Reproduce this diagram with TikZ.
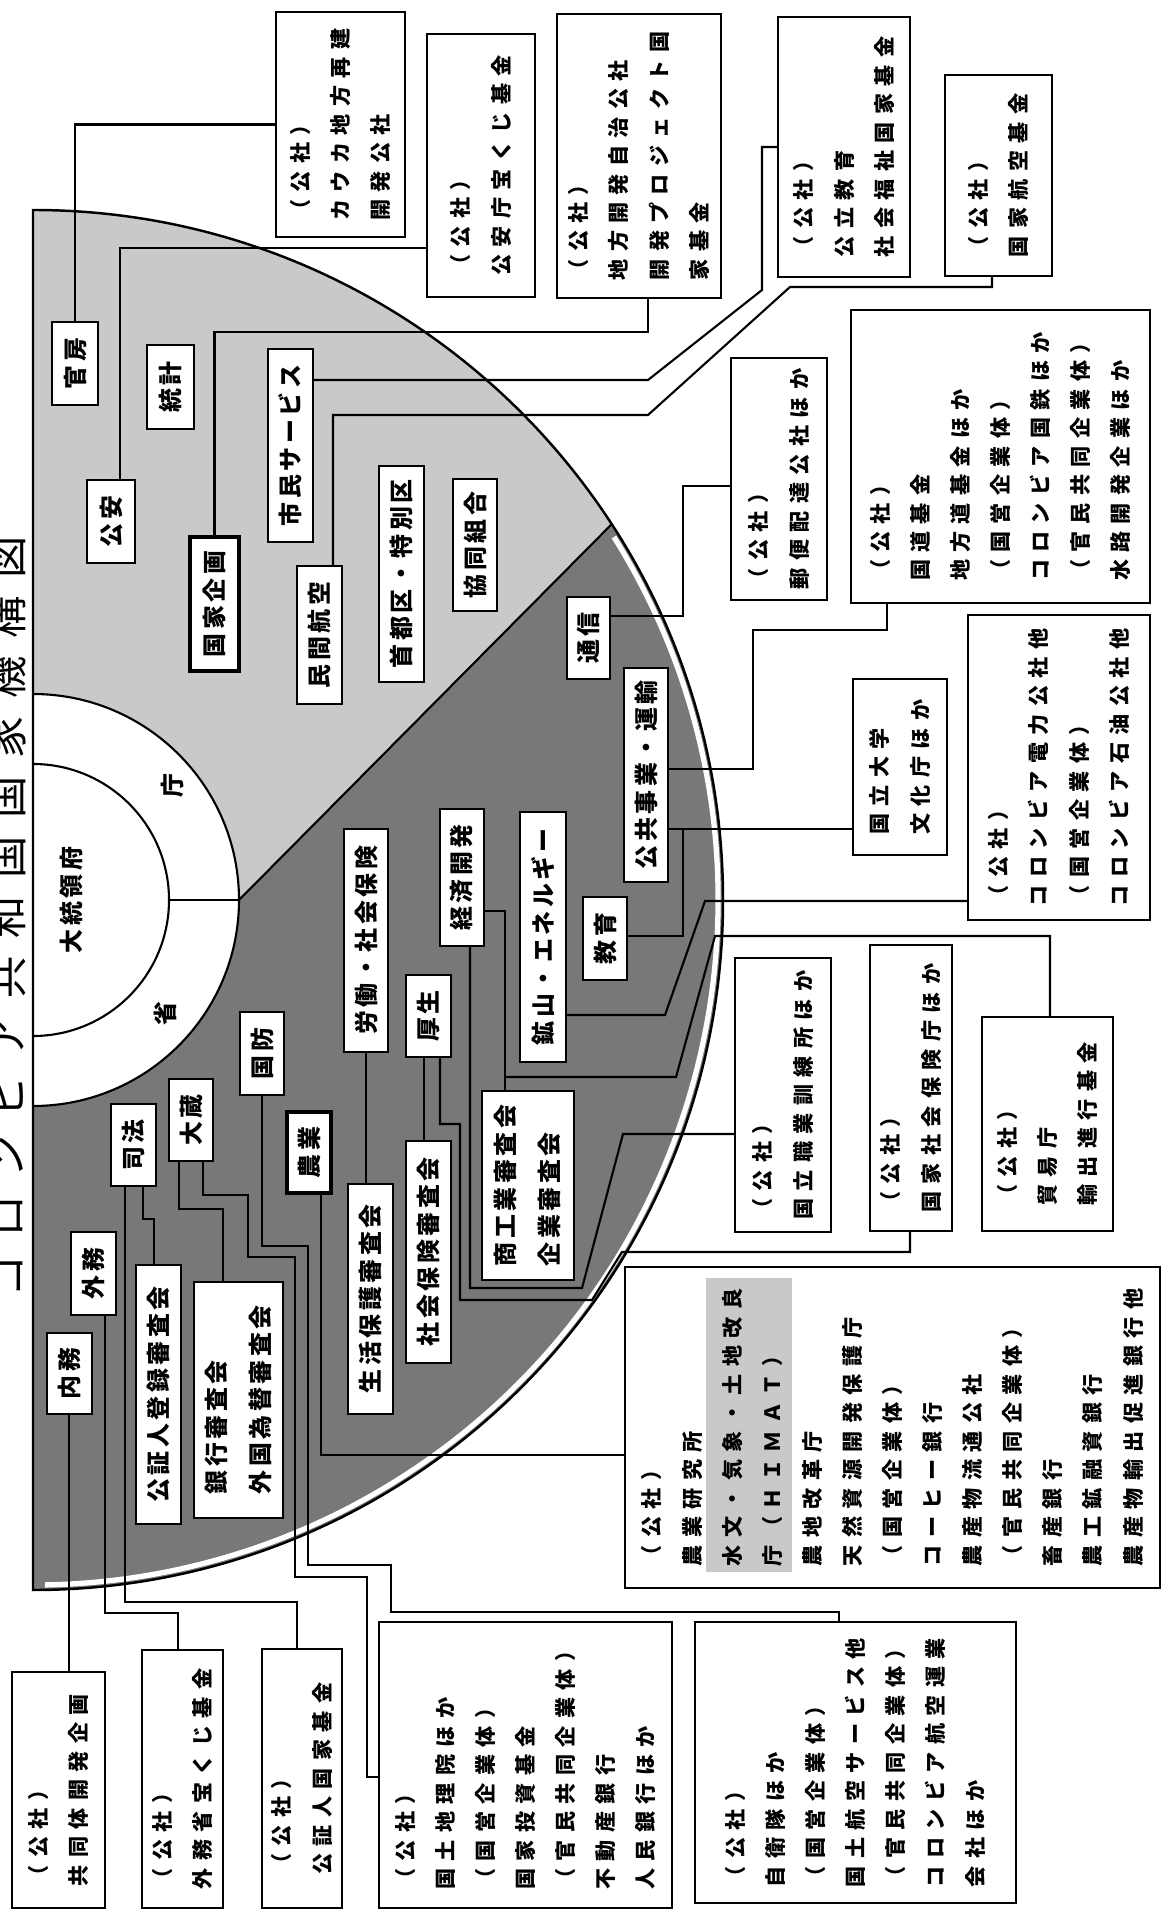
\documentclass[tikz,border=0pt]{standalone}
\usepackage{fontspec}
\usepackage{graphicx}
\usetikzlibrary{fit}
\newfontfamily\jpo{Noto Sans CJK JP}[LetterSpace=35]
\newfontfamily\jpi{Noto Sans CJK JP}[LetterSpace=15]
\newfontfamily\jpt{Noto Sans CJK JP}[LetterSpace=42]
\newcommand\vt[1]{\rotatebox{90}{\begin{tabular}{@{}l@{}}#1\end{tabular}}}
\newcommand\vs[1]{\rotatebox{90}{#1}}
\definecolor{lightg}{gray}{0.79}
\definecolor{darkg}{gray}{0.47}
\begin{document}
\begin{tikzpicture}[x=0.01cm, y=-0.01cm, line width=0.6pt,
  ob/.style={draw, fill=white, line width=0.7pt, inner sep=0pt},
  ib/.style={draw, fill=white, line width=0.6pt, inner sep=0pt},
  ot/.style={inner sep=0pt, font=\jpo\bfseries\fontsize{6pt}{11.4pt}\selectfont},
  it/.style={inner sep=0pt, font=\jpi\bfseries\fontsize{6.8pt}{12.5pt}\selectfont}]
\useasboundingbox (0,0) rectangle (1165,1913);
\clip (0,0) rectangle (1165,1913);
% ---- semicircle ----
\fill[darkg] (33,210) arc[start angle=-90,end angle=90,radius=690] -- cycle;
\begin{scope}
  \clip (33,210) arc[start angle=-90,end angle=90,radius=690] -- cycle;
  \fill[lightg] (33,0) -- (33,900) -- (239,900) -- (611.7,524.2) -- (1100,31.9) -- (1100,0) -- cycle;
\end{scope}
\draw[white, line width=1.5pt] (33,900) ++(-32:685) arc[start angle=-32,end angle=89,radius=685];
\fill[white] (33,694) arc[start angle=-90,end angle=90,radius=206] -- cycle;
\draw (33,694) arc[start angle=-90,end angle=90,radius=206];
\draw (33,764) arc[start angle=-90,end angle=90,radius=136];
\draw (169,900) -- (239,900);
\draw (239,900) -- (611.7,524.2);
\draw[line width=0.7pt] (33,210) arc[start angle=-90,end angle=90,radius=690] -- cycle;
% ---- title and centre ----
\node[inner sep=0pt, font=\jpt\fontsize{12pt}{14pt}\selectfont] (title) at (7,917) {\vs{コロンビア共和国国家機構図}};
\node[it] (pres) at (71,900) {\vs{大統領府}};
\node[it] (chou) at (172,786) {\vs{庁}};
\node[it] (shou) at (165,1014) {\vs{省}};
% ---- outer boxes ----
\node[ob, fit={(276,12)(405,237)}] (A) {};
\node[ot] (At) at (A.center) {\vt{（公社）\\カウカ地方再建\\開発公社}};
\node[ob, fit={(427,34)(535,297)}] (B) {};
\node[ot] (Bt) at (B.center) {\vt{（公社）\\公安庁宝くじ基金}};
\node[ob, fit={(557,14)(721,298)}] (C) {};
\node[ot] (Ct) at (C.center) {\vt{（公社）\\地方開発自治公社\\開発プロジェクト国\\家基金}};
\node[ob, fit={(778,17)(910,277)}] (D) {};
\node[ot] (Dt) at (D.center) {\vt{（公社）\\公立教育\\社会福祉国家基金}};
\node[ob, fit={(945,75)(1052,276)}] (E) {};
\node[ot] (Et) at (E.center) {\vt{（公社）\\国家航空基金}};
\node[ob, fit={(731,358)(827,600)}] (F) {};
\node[ot] (Ft) at (F.center) {\vt{（公社）\\郵便配達公社ほか}};
\node[ob, fit={(851,310)(1150,603)}] (G) {};
\node[ot] (Gt) at (G.center) {\vt{（公社）\\国道基金\\地方道基金ほか\\（国営企業体）\\コロンビア国鉄ほか\\（官民共同企業体）\\水路開発企業ほか}};
\node[ob, fit={(853,679)(947,855)}] (H) {};
\node[ot] (Ht) at (H.center) {\vt{国立大学\\文化庁ほか}};
\node[ob, fit={(968,615)(1150,920)}] (I) {};
\node[ot] (It) at (I.center) {\vt{（公社）\\コロンビア電力公社他\\（国営企業体）\\コロンビア石油公社他}};
\node[ob, fit={(735,958)(831,1232)}] (J) {};
\node[ot] (Jt) at (J.center) {\vt{（公社）\\国立職業訓練所ほか}};
\node[ob, fit={(870,945)(952,1231)}] (K) {};
\node[ot] (Kt) at (K.center) {\vt{（公社）\\国家社会保険庁ほか}};
\node[ob, fit={(982,1017)(1113,1231)}] (L) {};
\node[ot] (Lt) at (L.center) {\vt{（公社）\\貿易庁\\輸出進行基金}};
\node[ob, fit={(625,1267)(1160,1588)}] (M) {};
\fill[lightg] (706,1278) rectangle (792,1572);
\node[ot] (Mt) at (M.center) {\vt{（公社）\\農業研究所\\水文・気象・土地改良\\庁（ＨＩＭＡＴ）\\農地改革庁\\天然資源開発保護庁\\（国営企業体）\\コーヒー銀行\\農産物流通公社\\（官民共同企業体）\\畜産銀行\\農工鉱融資銀行\\農産物輸出促進銀行他}};
\node[ob, fit={(695,1622)(1016,1903)}] (N) {};
\node[ot] (Nt) at (N.center) {\vt{（公社）\\自衛隊ほか\\（国営企業体）\\国土航空サービス他\\（官民共同企業体）\\コロンビア航空運業\\会社ほか}};
\node[ob, fit={(379,1622)(672,1908)}] (O) {};
\node[ot] (Ot) at (O.center) {\vt{（公社）\\国土地理院ほか\\（国営企業体）\\国家投資基金\\（官民共同企業体）\\不動産銀行\\人民銀行ほか}};
\node[ob, fit={(262,1649)(342,1908)}] (P) {};
\node[ot] (Pt) at (P.center) {\vt{（公社）\\公証人国家基金}};
\node[ob, fit={(142,1650)(223,1908)}] (Q) {};
\node[ot] (Qt) at (Q.center) {\vt{（公社）\\外務省宝くじ基金}};
\node[ob, fit={(12,1672)(105,1908)}] (R) {};
\node[ot] (Rt) at (R.center) {\vt{（公社）\\共同体開発企画}};
% ---- inner boxes ----
\node[ib, fit={(52,322)(98,405)}] (kanbou) {};
\node[it] (kanbout) at (kanbou.center) {\vs{官房}};
\node[ib, fit={(87,480)(135,563)}] (kouan) {};
\node[it] (kouant) at (kouan.center) {\vs{公安}};
\node[ib, fit={(147,345)(194,429)}] (toukei) {};
\node[it] (toukeit) at (toukei.center) {\vs{統計}};
\node[ib, line width=1.3pt, fit={(190,537)(239,671)}] (kikaku) {};
\node[it] (kikakut) at (kikaku.center) {\vs{国家企画}};
\node[ib, fit={(268,349)(313,542)}] (shimin) {};
\node[it] (shimint) at (shimin.center) {\vs{市民サービス}};
\node[ib, fit={(297,566)(342,704)}] (minkan) {};
\node[it] (minkant) at (minkan.center) {\vs{民間航空}};
\node[ib, fit={(379,466)(424,682)}] (shuto) {};
\node[it] (shutot) at (shuto.center) {\vs{首都区・特別区}};
\node[ib, fit={(453,479)(497,611)}] (kyoudou) {};
\node[it] (kyoudout) at (kyoudou.center) {\vs{協同組合}};
\node[ib, fit={(567,597)(610,679)}] (tsushin) {};
\node[it] (tsushint) at (tsushin.center) {\vs{通信}};
\node[ib, fit={(624,668)(668,882)}] (koukyou) {};
\node[it] (koukyout) at (koukyou.center) {\vs{公共事業・運輸}};
\node[ib, fit={(440,809)(484,946)}] (keizai) {};
\node[it] (keizait) at (keizai.center) {\vs{経済開発}};
\node[ib, fit={(520,812)(566,1062)}] (kouzan) {};
\node[it] (kouzant) at (kouzan.center) {\vs{鉱山・エネルギー}};
\node[ib, fit={(583,897)(627,980)}] (kyouiku) {};
\node[it] (kyouikut) at (kyouiku.center) {\vs{教育}};
\node[ib, fit={(344,829)(388,1052)}] (roudou) {};
\node[it] (roudout) at (roudou.center) {\vs{労働・社会保険}};
\node[ib, fit={(406,975)(451,1057)}] (kousei) {};
\node[it] (kouseit) at (kousei.center) {\vs{厚生}};
\node[ib, fit={(240,1012)(284,1095)}] (kokubou) {};
\node[it] (kokuboutt) at (kokubou.center) {\vs{国防}};
\node[ib, line width=1.3pt, fit={(287,1112)(331,1193)}] (nougyou) {};
\node[it] (nougyout) at (nougyou.center) {\vs{農業}};
\node[ib, fit={(169,1079)(213,1161)}] (ookura) {};
\node[it] (ookurat) at (ookura.center) {\vs{大蔵}};
\node[ib, fit={(111,1104)(156,1186)}] (shihou) {};
\node[it] (shihout) at (shihou.center) {\vs{司法}};
\node[ib, fit={(71,1232)(116,1315)}] (gaimu) {};
\node[it] (gaimut) at (gaimu.center) {\vs{外務}};
\node[ib, fit={(47,1333)(92,1414)}] (naimu) {};
\node[it] (naimut) at (naimu.center) {\vs{内務}};
\node[ib, fit={(136,1265)(181,1524)}] (koushou) {};
\node[it] (koushout) at (koushou.center) {\vs{公証人登録審査会}};
\node[ib, fit={(194,1282)(283,1518)}] (ginkou) {};
\node[it] (ginkout) at (ginkou.center) {\vt{銀行審査会\\外国為替審査会}};
\node[ib, fit={(348,1184)(393,1414)}] (seikatsu) {};
\node[it] (seikatsut) at (seikatsu.center) {\vs{生活保護審査会}};
\node[ib, fit={(406,1141)(451,1363)}] (shakai) {};
\node[it] (shakait) at (shakai.center) {\vs{社会保険審査会}};
\node[ib, fit={(482,1091)(574,1280)}] (shoukou) {};
\node[it] (shoukout) at (shoukou.center) {\vt{商工業審査会\\企業審査会}};
% ---- connectors ----
\draw (kanbou.north) |- (A.west);
\draw (kouan.north -| 120,0) |- (B.west |- 0,248);
\draw (kikaku.north) |- (648,332) -- (C.south -| 648,0);
\draw (shimin.east |- 0,380) -- (648,380) -- (762,290) -- (762,147) -- (D.west |- 0,147);
\draw (minkan.north -| 333,0) |- (648,415) -- (790,287) -| (E.south -| 992,0);
\draw (tsushin.east |- 0,616) -- (683,616) |- (F.west |- 0,486);
\draw (koukyou.east |- 0,769) -- (753,769) |- (887,630) -- (G.south -| 887,0);
\draw (kyouiku.east |- 0,936) -- (683,936) |- (H.west |- 0,829);
\draw (koukyou.east |- 0,829) -- (683,829);
\draw (kouzan.east |- 0,1015) -- (665,1015) -- (705,901) -- (I.west |- 0,901);
\draw (keizai.east |- 0,911) -- (505,911) -- (shoukou.north -| 505,0);
\coordinate (bL) at (505,1077);
\draw (bL) -- (676,1077) -- (715,936) -| (L.north -| 1050,0);
\draw (keizai.south -| 470,0) -- (470,1288) -- (582,1288) -- (623,1134) -- (J.west |- 0,1134);
\draw (kousei.south -| 440,0) -- (440,1124) -- (460,1124) -- (460,1300) -- (592,1300) -- (622,1252) -| (K.south -| 910,0);
\draw (roudou.south -| 366,0) -- (seikatsu.north -| 366,0);
\draw (kousei.south -| 424,0) -- (shakai.north -| 424,0);
\draw (nougyou.south -| 321,0) |- (M.west |- 0,1455);
\draw (kokubou.south) -- (kokubou.south |- 0,1246) -- (308,1246) -- (308,1565) -- (391,1565) -- (391,1612) -| (N.north -| 839,0);
\draw (ookura.south -| 203,0) -- (203,1195) -- (248,1195) -- (248,1257) -- (295,1257) -- (295,1577) -- (367,1577) |- (O.west |- 0,1777);
\draw (ookura.south -| 179,0) -- (179,1209) -- (223,1209) -- (ginkou.north -| 223,0);
\draw (shihou.south -| 143,0) -- (143,1219) -- (154,1219) -- (koushou.north -| 154,0);
\draw (shihou.south -| 125,0) -- (125,1602) -| (P.north -| 297,0);
\draw (gaimu.south -| 105,0) -- (105,1613) -| (Q.north -| 178,0);
\draw (naimu.south -| 69,0) -- (R.north -| 69,0);
\end{tikzpicture}
\end{document}
